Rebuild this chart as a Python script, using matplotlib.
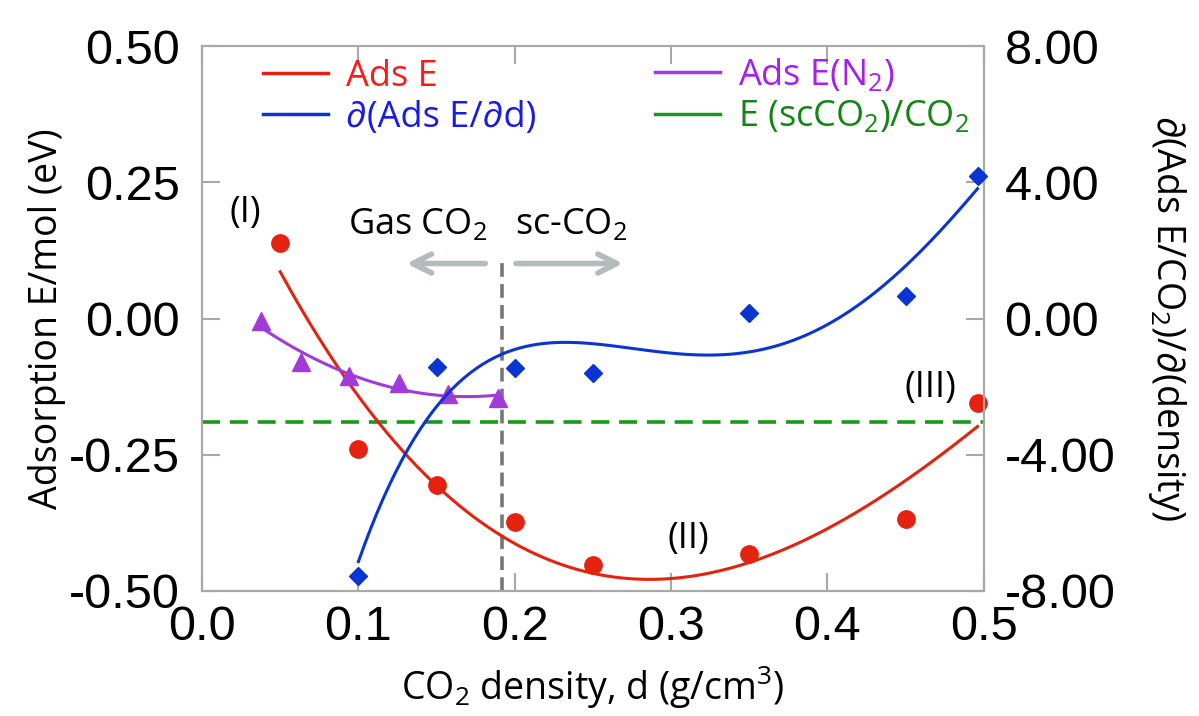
"""Adsorption energy vs CO2 density, with its derivative on a twin axis."""
import matplotlib

matplotlib.use("Agg")
import matplotlib.pyplot as plt
import numpy as np
from matplotlib.lines import Line2D

plt.rcParams["font.family"] = ["Open Sans", "DejaVu Sans"]
plt.rcParams["mathtext.fontset"] = "custom"
plt.rcParams["mathtext.rm"] = "Open Sans"
plt.rcParams["mathtext.it"] = "Open Sans:italic"

# Ads E (eV, left axis)
ads_x = [0.05, 0.10, 0.15, 0.20, 0.25, 0.35, 0.45, 0.496]
ads_y = [0.138, -0.239, -0.305, -0.373, -0.453, -0.433, -0.367, -0.155]

# derivative d(Ads E)/d(density) (right axis)
deriv_x = [0.10, 0.15, 0.20, 0.25, 0.35, 0.45, 0.496]
deriv_y = [-7.55, -1.41, -1.44, -1.59, 0.15, 0.65, 4.2]

# Ads E for N2 (left axis)
n2_x = [0.038, 0.063, 0.094, 0.126, 0.157, 0.189]
n2_y = [-0.004, -0.080, -0.105, -0.118, -0.138, -0.146]

sc_energy = -0.19      # E(scCO2)/CO2 reference level
critical_d = 0.192     # gas / supercritical boundary

RED, BLUE, PURPLE, GREEN = "#e3230f", "#0a35d0", "#a23ad8", "#179a17"
FRAME = "#a8a8a8"


def trend(x, y, deg, n=200):
    """Polynomial trendline over the span of the points."""
    coef = np.polyfit(x, y, deg)
    xs = np.linspace(min(x), max(x), n)
    return xs, np.polyval(coef, xs)


fig = plt.figure(figsize=(11.99, 7.16), dpi=100)
ax = fig.add_axes([0.1685, 0.1746, 0.652, 0.761])
ax2 = ax.twinx()

ax.plot(*trend(ads_x, ads_y, 3), color=RED, lw=2.2, zorder=3)
ax.plot(ads_x, ads_y, "o", color=RED, ms=12.5, zorder=4, clip_on=False)
ax.plot(*trend(n2_x, n2_y, 2), color=PURPLE, lw=2.2, zorder=3)
ax.plot(n2_x, n2_y, "^", color=PURPLE, ms=13, zorder=4)
ax2.plot(*trend(deriv_x, deriv_y, 4), color=BLUE, lw=2.2, zorder=3)
ax2.plot(deriv_x, deriv_y, "D", color=BLUE, ms=9.5, zorder=4, clip_on=False)

ax.plot([0, 0.5], [sc_energy, sc_energy], color=GREEN, lw=2.6,
        dashes=(5, 2.7), zorder=2)
ax.plot([critical_d, critical_d], [-0.5, 0.112], color="#777777", lw=2.6,
        dashes=(3.8, 2.0), zorder=2)

arrow = dict(arrowstyle="->", color="#b3bbbb", lw=4, mutation_scale=34)
ax.annotate("", xy=(0.129, 0.101), xytext=(0.183, 0.101), arrowprops=arrow)
ax.annotate("", xy=(0.271, 0.101), xytext=(0.199, 0.101), arrowprops=arrow)

txt = dict(fontsize=26, color="black", ha="center", va="center")
ax.text(0.138, 0.171, "Gas CO$_2$", **txt)
ax.text(0.236, 0.171, "sc-CO$_2$", **txt)
ax.text(0.0275, 0.193, "(I)", **txt)
ax.text(0.311, -0.404, "(II)", **txt)
ax.text(0.466, -0.128, "(III)", **txt)

ax.set_xlim(0, 0.5)
ax.set_ylim(-0.5, 0.5)
ax2.set_ylim(-8, 8)
ax.set_xticks([0, 0.1, 0.2, 0.3, 0.4, 0.5])
ax.set_xticklabels(["0.0", "0.1", "0.2", "0.3", "0.4", "0.5"])
ax.set_yticks([-0.5, -0.25, 0, 0.25, 0.5])
ax.set_yticklabels(["-0.50", "-0.25", "0.00", "0.25", "0.50"])
ax2.set_yticks([-8, -4, 0, 4, 8])
ax2.set_yticklabels(["-8.00", "-4.00", "0.00", "4.00", "8.00"])

tick_font = dict(family="Liberation Sans", size=35)
for lab in ax.get_xticklabels() + ax.get_yticklabels() + ax2.get_yticklabels():
    lab.set_fontproperties(tick_font)
ax.tick_params(axis="x", direction="in", length=13, width=1.5, color=FRAME,
               pad=10, top=True)
ax.tick_params(axis="y", direction="in", length=13, width=1.5, color=FRAME,
               pad=16)
ax2.tick_params(axis="y", direction="in", length=13, width=1.5, color=FRAME,
                pad=15)
for a in (ax, ax2):
    for sp in a.spines.values():
        sp.set_color(FRAME)
        sp.set_linewidth(1.5)

ax.set_xlabel("CO$_2$ density, d (g/cm$^3$)", fontsize=27, labelpad=10)
ax.set_ylabel("Adsorption E/mol (eV)", fontsize=27, labelpad=2)
ax2.set_ylabel("\u2202(Ads E/CO$_2$)/\u2202(density)", fontsize=27,
               rotation=270, labelpad=52)

leg_kw = dict(frameon=False, fontsize=26, handlelength=1.8, handletextpad=0.5,
              labelspacing=0.15, borderaxespad=0, borderpad=0)
left = ax.legend(
    [Line2D([], [], color=RED, lw=2.5), Line2D([], [], color=BLUE, lw=2.5)],
    ["Ads E", "\u2202(Ads E/\u2202d)"], loc="upper left",
    bbox_to_anchor=(0.078, 0.977), labelcolor=["#ff1a1a", "#1a1ae6"], **leg_kw)
ax.add_artist(left)
ax.legend(
    [Line2D([], [], color=PURPLE, lw=2.5), Line2D([], [], color=GREEN, lw=2.5)],
    ["Ads E(N$_2$)", "E (scCO$_2$)/CO$_2$"], loc="upper left",
    bbox_to_anchor=(0.579, 0.980), labelcolor=["#a51ff0", "#148514"], **leg_kw)

fig.savefig("out.png", dpi=100)
